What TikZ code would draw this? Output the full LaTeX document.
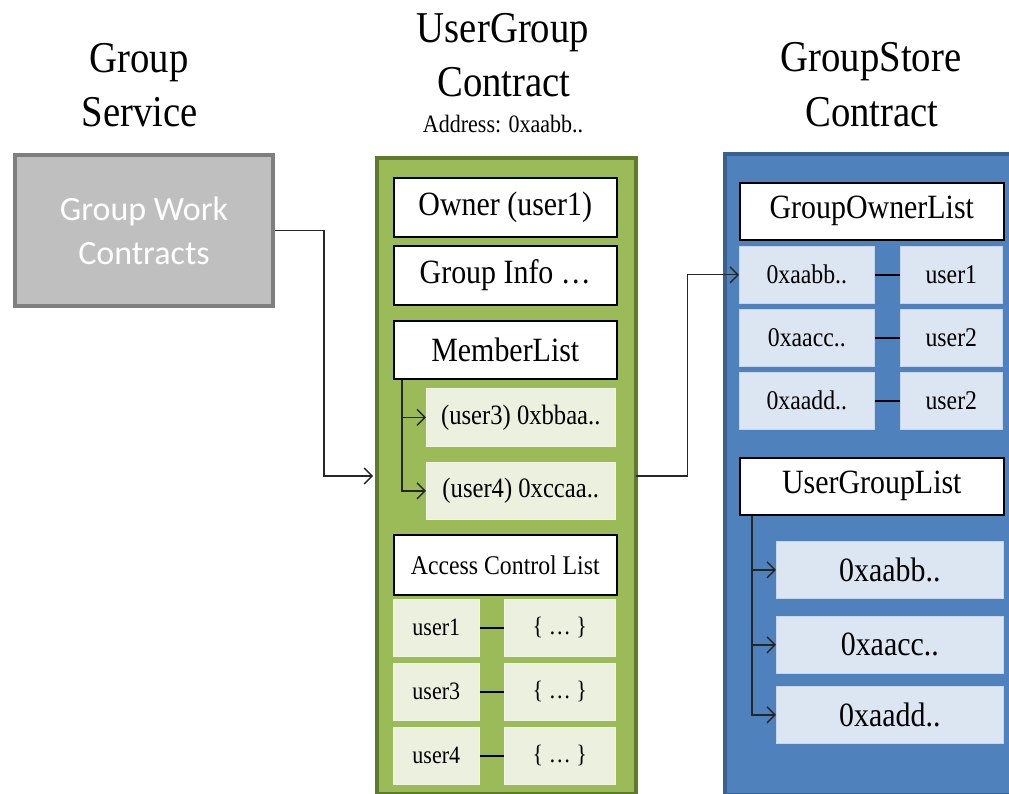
\documentclass[tikz,border=0pt]{standalone}
\usepackage{fontspec}
\setmainfont{Liberation Serif}[FakeStretch=0.88]
\newfontfamily\labelsans{Carlito}
\usetikzlibrary{arrows.meta,calc}

\definecolor{gsFill}{HTML}{BFBFBF}
\definecolor{gsLine}{HTML}{7F7F7F}
\definecolor{ugFill}{HTML}{9BBB59}
\definecolor{ugLine}{HTML}{5E7A2C}
\definecolor{ugItem}{HTML}{EBF1DE}
\definecolor{stFill}{HTML}{4F81BD}
\definecolor{stLine}{HTML}{3A6090}
\definecolor{stItem}{HTML}{DCE6F2}

\newcommand\fs[1]{\fontsize{#1}{#1}\selectfont}

\begin{document}
\begin{tikzpicture}[x=1pt,y=-1pt,
  hdr/.style={anchor=base,inner sep=0,font=\fs{44}},
  sub/.style={anchor=base,inner sep=0,font=\fs{25}},
  panel/.style={anchor=north west,inner sep=0,line width=4pt},
  titlebox/.style={anchor=north west,inner sep=0,draw=black,line width=1.6pt,fill=white,font=\fs{34}},
  greencell/.style={anchor=north west,inner sep=0,fill=ugItem,draw=ugItem!80!white,line width=0.6pt},
  bluecell/.style={anchor=north west,inner sep=0,fill=stItem,draw=stItem!85!stFill,line width=0.6pt},
  conn/.style={draw=black!85,line width=1.4pt},
  tip/.style={-{Straight Barb[length=8pt,width=16pt,line width=1.4pt]}},
  link/.style={draw=black,line width=2pt}
]
\useasboundingbox (0,0) rectangle (1009,794);
\clip (0,0) rectangle (1009,794);

% column headings
\node[hdr] (gsA) at (139,73)  {Group};
\node[hdr] (gsB) at (140,127) {Service};
\node[hdr] (ugA) at (503,43)  {UserGroup};
\node[hdr] (ugB) at (504,97)  {Contract};
\node[sub] (ugC) at (503,133) {Address: 0xaabb..};
\node[hdr] (stA) at (871,72)  {GroupStore};
\node[hdr] (stB) at (872,127) {Contract};

% group service
\node[panel,draw=gsLine,fill=gsFill,minimum width=258pt,minimum height=151pt,
      text=white,align=center,font={\labelsans\fontsize{34}{44}\selectfont}]
  (gs) at (13,153) {Group Work\\Contracts};

% user group contract
\node[panel,draw=ugLine,fill=ugFill,minimum width=259pt,minimum height=636pt] (ug) at (375,156) {};
\node[titlebox,minimum width=223pt,minimum height=59pt] (owner) at (393,177) {Owner (user1)};
\node[titlebox,minimum width=223pt,minimum height=59pt] (ginfo) at (393,245) {Group Info …};
\node[titlebox,minimum width=223pt,minimum height=58pt] (mlist) at (393,320) {MemberList};
\node[greencell,minimum width=189pt,minimum height=58pt,font=\fs{28}] (m1) at (426,388) {(user3) 0xbbaa..};
\node[greencell,minimum width=189pt,minimum height=57pt,font=\fs{28}] (m2) at (426,462) {(user4) 0xccaa..};
\node[titlebox,minimum width=223pt,minimum height=60pt,font=\fs{27}] (acl) at (393,534) {Access Control List};
\foreach \i/\y/\u in {1/599/user1,2/663/user3,3/727/user4}{
  \node[greencell,minimum width=86pt,minimum height=57pt,font=\fs{25}] (a\i) at (393,\y) {\u};
  \node[greencell,minimum width=111pt,minimum height=57pt,font=\fs{25}] (b\i) at (504,\y) {\{ … \}};
  \draw[link] (a\i) -- (b\i);
}
\coordinate (mTop) at ($(mlist.south west)+(9,0)$);
\draw[conn,tip] (mTop) |- (m1.west);
\draw[conn,tip] (mTop) |- (m2.west);

% group store contract
\node[panel,draw=stLine,fill=stFill,minimum width=300pt,minimum height=641pt] (st) at (723,152) {};
\node[titlebox,minimum width=264pt,minimum height=57pt] (gol) at (739,182) {GroupOwnerList};
\foreach \i/\y/\h/\u in {1/246/aabb/user1,2/309/aacc/user2,3/372/aadd/user2}{
  \node[bluecell,minimum width=135pt,minimum height=57pt,font=\fs{27}] (o\i) at (739,\y) {0x\h..};
  \node[bluecell,minimum width=102pt,minimum height=57pt,font=\fs{27}] (p\i) at (900,\y) {\u};
  \draw[link] (o\i) -- (p\i);
}
\node[titlebox,minimum width=264pt,minimum height=57pt] (ugl) at (739,457) {UserGroupList};
\node[bluecell,minimum width=227pt,minimum height=57pt,font=\fs{34}] (u1) at (776,541) {0xaabb..};
\node[bluecell,minimum width=227pt,minimum height=57pt,font=\fs{34}] (u2) at (776,616) {0xaacc..};
\node[bluecell,minimum width=227pt,minimum height=57pt,font=\fs{34}] (u3) at (776,686) {0xaadd..};
\coordinate (uTop) at ($(ugl.south west)+(13,0)$);
\draw[conn,tip] (uTop) |- (u1.west);
\draw[conn,tip] (uTop) |- (u2.west);
\draw[conn,tip] (uTop) |- (u3.west);

% links between the contracts
\coordinate (gIn)  at (373,476);
\coordinate (gOut) at (636,476);
\draw[conn,tip] (gs.east) -| ($(gs.east)!.5!(gIn)$) |- (gIn);
\draw[conn,tip] (gOut) -| ($(gOut)!.5!(o1.west)$) |- (o1.west);
\end{tikzpicture}
\end{document}
